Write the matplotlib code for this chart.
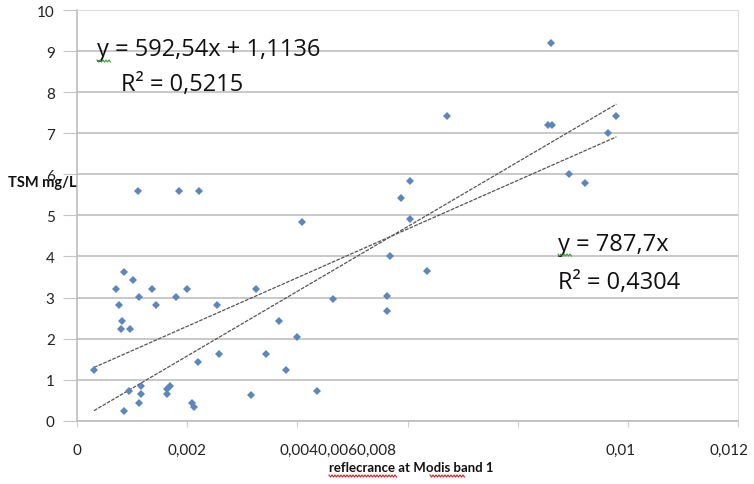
import matplotlib.pyplot as plt
import matplotlib.transforms as mtransforms
from matplotlib.lines import Line2D
import numpy as np

plt.rcParams['font.family'] = ['Lato', 'DejaVu Sans']

# reflectance at Modis band 1 vs TSM (mg/L)
refl = [0.00031, 0.00086, 0.00102, 0.00071, 0.00136, 0.00199, 0.00113, 0.0018,
        0.00076, 0.00143, 0.00255, 0.00081, 0.0008, 0.00097, 0.00257, 0.0022,
        0.00095, 0.00117, 0.00116, 0.00113, 0.00085, 0.00169, 0.00164, 0.00163,
        0.00208, 0.00213, 0.0011, 0.00185, 0.00221, 0.00408, 0.00325, 0.00464,
        0.00366, 0.00399, 0.00343, 0.00379, 0.00316, 0.00436, 0.00605, 0.00588,
        0.00605, 0.00568, 0.00563, 0.00562, 0.00672, 0.00855, 0.00863, 0.00635,
        0.0086, 0.00979, 0.00963, 0.00893, 0.00922]
tsm = [1.24, 3.63, 3.43, 3.22, 3.22, 3.22, 3.02, 3.02,
       2.82, 2.82, 2.82, 2.43, 2.23, 2.23, 1.62, 1.42,
       0.72, 0.85, 0.65, 0.43, 0.24, 0.85, 0.77, 0.65,
       0.43, 0.34, 5.6, 5.6, 5.6, 4.83, 3.22, 2.96,
       2.43, 2.03, 1.62, 1.23, 0.63, 0.73, 5.83, 5.42,
       4.91, 4.02, 3.04, 2.68, 7.41, 7.21, 7.21, 3.65,
       9.21, 7.41, 7.0, 6.02, 5.8]

# trendlines as given in the chart
slope1, icpt1 = 592.54, 1.1136
slope2 = 787.7

fig = plt.figure(figsize=(7.54, 4.85), dpi=100)
ax = fig.add_axes([0.102, 0.1305, 0.877, 0.8465])

ax.set_xlim(0, 0.012)
ax.set_ylim(0, 10)

ax.set_yticks(range(0, 11))
ax.yaxis.grid(True, color='#c4c4c4', lw=1.3)
ax.set_axisbelow(True)
for s in ['top', 'right']:
    ax.spines[s].set_color('#dedede')
ax.spines['left'].set_color('#bdbdbd')
ax.spines['bottom'].set_color('#bdbdbd')
ax.spines['left'].set_linewidth(1.2)
ax.spines['bottom'].set_linewidth(1.2)
ax.tick_params(axis='y', length=10, color='#c4c4c4', labelsize=11, pad=6, labelcolor='#222')
ax.tick_params(axis='x', length=4, color='#cfcfcf', labelsize=11, pad=12, labelcolor='#222')

ax.set_xticks([0, 0.002, 0.004, 0.006, 0.008, 0.01, 0.012])
ax.set_xticklabels(['0', '0,002', '', '', '', '0,01', '0,012'])
labs = ax.get_xticklabels()
labs[-2].set_transform(labs[-2].get_transform() + mtransforms.ScaledTranslation(-0.07, 0, fig.dpi_scale_trans))
labs[-1].set_transform(labs[-1].get_transform() + mtransforms.ScaledTranslation(-0.09, 0, fig.dpi_scale_trans))
ax.text(0.00474, -0.72, '0,0040,0060,008', ha='center', va='center', fontsize=11, color='#222')

xs = np.array([min(refl), max(refl)])
ax.plot(xs, slope1 * xs + icpt1, color='#555555', lw=0.9, ls=(0, (3, 1)))
ax.plot(xs, slope2 * xs, color='#555555', lw=0.9, ls=(0, (3, 1)))

ax.plot(refl, tsm, 'D', color='#5b87bd', markersize=4.2, markeredgewidth=0)

eq = dict(fontsize=17, color='#111', va='center', family=['Open Sans', 'DejaVu Sans'])
ax.text(0.00037, 9.05, 'y = 592,54x + 1,1136', **eq)
ax.text(0.00080, 8.2, 'R² = 0,5215', **eq)
ax.text(0.00873, 4.3, 'y = 787,7x', **eq)
ax.text(0.00873, 3.38, 'R² = 0,4304', **eq)

fig.text(0.01, 0.622, 'TSM mg/L', fontsize=10.5, fontweight='bold', color='#111', va='center')
fig.text(0.545, 0.035, 'reflecrance at Modis band 1', fontsize=9.5, fontweight='bold',
         color='#111', ha='center', va='center')


# spell-check squiggles (pixel positions from top-left)
def squiggle(x0, x1, y, color):
    px = np.arange(x0, x1 + 1, 1.5)
    py = y + np.where(np.arange(len(px)) % 2 == 0, -1.0, 1.0)
    fig.add_artist(Line2D(px / 754, 1 - py / 485, color=color, lw=0.8, transform=fig.transFigure))


squiggle(97, 110, 62, '#3a9a3a')
squiggle(558, 572, 256, '#3a9a3a')
squiggle(329, 397, 477, '#d02020')
squiggle(430, 465, 477, '#d02020')

fig.savefig('out.png', dpi=100)
